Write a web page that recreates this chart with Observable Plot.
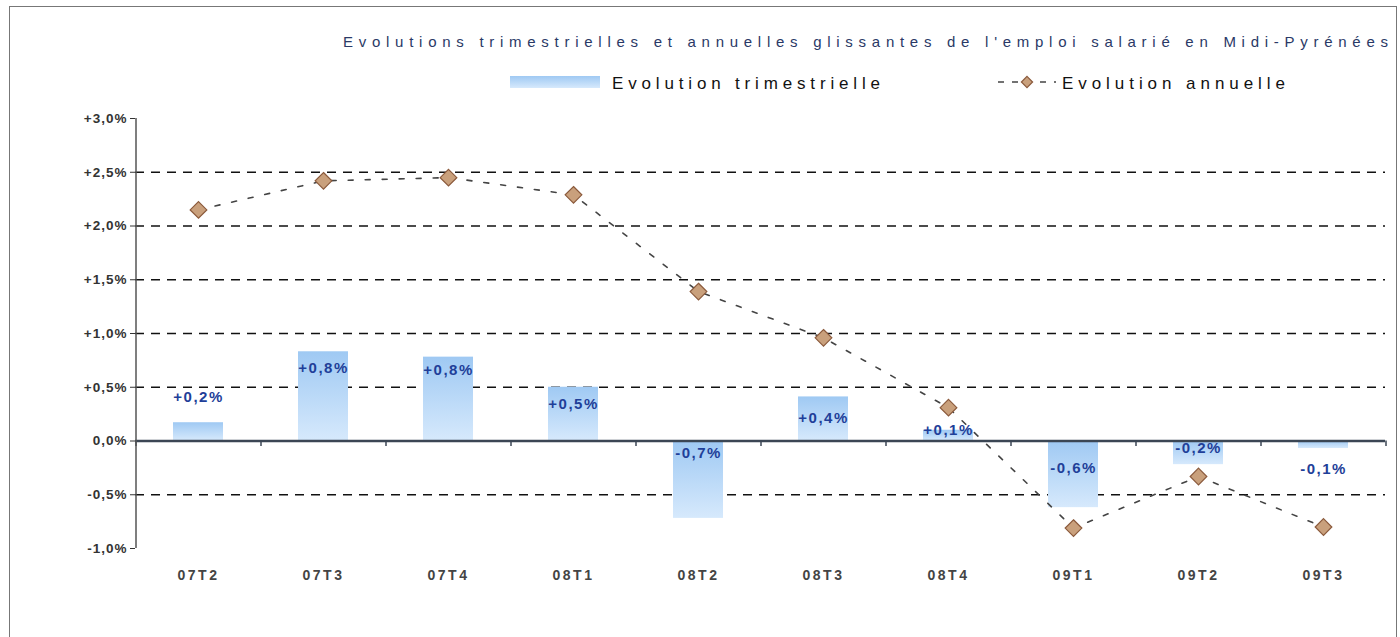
<!DOCTYPE html>
<html>
<head>
<meta charset="utf-8">
<script src="https://cdn.jsdelivr.net/npm/d3@7"></script>
<script src="https://cdn.jsdelivr.net/npm/@observablehq/plot@0.6"></script>
<style>
  html, body { margin: 0; padding: 0; background: #ffffff; }
  #wrap { position: relative; width: 1400px; height: 637px; overflow: hidden; font-family: "Liberation Sans", Arial, sans-serif; }
  #frame { position: absolute; left: 9px; top: 6px; width: 1388px; height: 640px; border: 1px solid #777; box-sizing: border-box; }
  #header { position: absolute; left: 0; top: 0; }
  #chart { position: absolute; left: 0; top: 100px; }
  #chart svg g[aria-label^="x-axis"] text { letter-spacing: 2.5px; font-weight: bold; font-size: 14px; fill: #444; }
  #chart svg g[aria-label^="y-axis"] text { letter-spacing: 1px; font-weight: bold; font-size: 13.5px; fill: #333; }
  #chart svg g.barlab text { letter-spacing: 1.5px; }
</style>
</head>
<body>
<div id="wrap">
  <div id="frame"></div>
  <svg id="header" width="1400" height="100"></svg>
  <div id="chart"></div>
</div>
<script>
// ---- data ----
const categories = ["07T2", "07T3", "07T4", "08T1", "08T2", "08T3", "08T4", "09T1", "09T2", "09T3"];
const quarterly = [0.17, 0.83, 0.78, 0.50, -0.72, 0.41, 0.10, -0.62, -0.22, -0.07];
const quarterlyLabels = ["+0,2%", "+0,8%", "+0,8%", "+0,5%", "-0,7%", "+0,4%", "+0,1%", "-0,6%", "-0,2%", "-0,1%"];
const annual = [2.15, 2.42, 2.45, 2.29, 1.39, 0.96, 0.31, -0.81, -0.33, -0.80];
const yTicks = [-1, -0.5, 0, 0.5, 1, 1.5, 2, 2.5, 3];
const gridValues = [2.5, 2, 1.5, 1, 0.5, -0.5];
const titleText = "Evolutions trimestrielles et annuelles glissantes de l'emploi salarié en Midi-Pyrénées";
const legendQuarterly = "Evolution trimestrielle";
const legendAnnual = "Evolution annuelle";

const rows = categories.map((c, i) => ({cat: c, q: quarterly[i], a: annual[i], label: quarterlyLabels[i], i}));

// label vertical offsets (layout, px)
const labelDy = [-26, 16, 13, 17, -65, 21, 0, -39, -16, 21];

const fmt = d => (d > 0 ? "+" : "") + d.toFixed(1).replace(".", ",") + "%";

const labelMarks = rows.map(r => Plot.text([r], {
  x: "cat", y: "q", text: "label", dy: labelDy[r.i],
  fill: "#1f3f99", fontSize: 15, fontWeight: "bold", className: "barlab"
}));

const chart = Plot.plot({
  width: 1400,
  height: 537,
  marginTop: 18,
  marginBottom: 89,
  marginLeft: 135,
  marginRight: 15,
  style: {fontFamily: "'Liberation Sans', Arial, sans-serif", fontSize: "13px", color: "#333", background: "transparent"},
  x: {domain: categories, paddingInner: 0.6, paddingOuter: 0.3, label: null, tickSize: 0, tickPadding: 22},
  y: {domain: [-1, 3], ticks: yTicks, tickFormat: fmt, tickSize: 5, tickPadding: 3, label: null},
  marks: [
    Plot.ruleY(gridValues, {stroke: "#111", strokeWidth: 1.6, strokeDasharray: "9,7"}),
    Plot.barY(rows, {x: "cat", y: "q", fill: "url(#barGrad)"}),
    Plot.ruleY([0], {stroke: "#3b4654", strokeWidth: 2.5}),
    Plot.ruleX(categories, {x: d => d, y1: 0, y2: -0.05, dx: -62.5, stroke: "#3b4654", strokeWidth: 1.5}),
    Plot.ruleX([categories[categories.length - 1]], {x: d => d, y1: 0, y2: -0.05, dx: 62.5, stroke: "#3b4654", strokeWidth: 1.5}),
    Plot.ruleX([categories[0]], {x: d => d, y1: -1, y2: 3, dx: -62.5, stroke: "#555", strokeWidth: 1.5}),
    Plot.line(rows, {x: "cat", y: "a", curve: "linear", stroke: "#444", strokeWidth: 1.6, strokeDasharray: "5,12"}),
    Plot.dot(rows, {x: "cat", y: "a", symbol: "diamond2", r: 7.5, fill: "#c9a07c", stroke: "#8b5a3c", strokeWidth: 1.2}),
    ...labelMarks
  ]
});

// gradient defs
const defs = d3.select(chart).insert("defs", ":first-child");
const g = defs.append("linearGradient").attr("id", "barGrad").attr("x1", 0).attr("y1", 0).attr("x2", 0).attr("y2", 1);
g.append("stop").attr("offset", "0%").attr("stop-color", "#9fc9f3");
g.append("stop").attr("offset", "100%").attr("stop-color", "#d6e9fc");

document.getElementById("chart").appendChild(chart);

// header: title + legend
const hdr = d3.select("#header");
const hdefs = hdr.append("defs");
const lg = hdefs.append("linearGradient").attr("id", "legGrad").attr("x1", 0).attr("y1", 0).attr("x2", 0).attr("y2", 1);
lg.append("stop").attr("offset", "0%").attr("stop-color", "#9fc9f3");
lg.append("stop").attr("offset", "100%").attr("stop-color", "#d6e9fc");

hdr.append("text").attr("x", 343).attr("y", 47).attr("textLength", 1045).attr("lengthAdjust", "spacing")
  .attr("font-family", "'Liberation Sans', Arial, sans-serif").attr("font-size", 15).attr("fill", "#2a3966")
  .text(titleText);

hdr.append("rect").attr("x", 510).attr("y", 76).attr("width", 90).attr("height", 12).attr("fill", "url(#legGrad)");
hdr.append("text").attr("x", 612).attr("y", 89).attr("textLength", 268).attr("lengthAdjust", "spacing")
  .attr("font-family", "'Liberation Sans', Arial, sans-serif").attr("font-size", 17).attr("fill", "#111")
  .text(legendQuarterly);

hdr.append("line").attr("x1", 998).attr("x2", 1056).attr("y1", 82).attr("y2", 82)
  .attr("stroke", "#444").attr("stroke-width", 1.6).attr("stroke-dasharray", "6,8");
hdr.append("path").attr("d", d3.symbol(d3.symbolDiamond2, 80)()).attr("transform", "translate(1027,82)")
  .attr("fill", "#c9a07c").attr("stroke", "#8b5a3c").attr("stroke-width", 1.2);
hdr.append("text").attr("x", 1062).attr("y", 89).attr("textLength", 223).attr("lengthAdjust", "spacing")
  .attr("font-family", "'Liberation Sans', Arial, sans-serif").attr("font-size", 17).attr("fill", "#111")
  .text(legendAnnual);
</script>
</body>
</html>
